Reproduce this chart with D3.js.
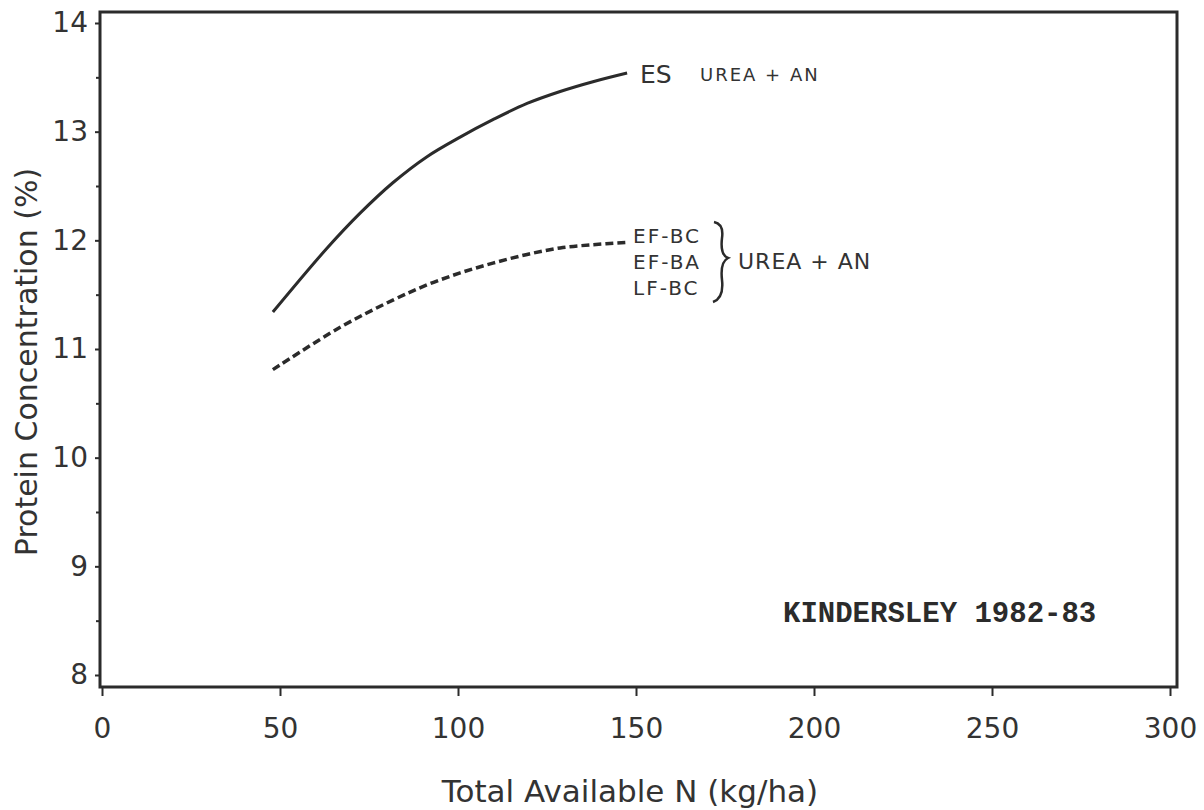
<!DOCTYPE html>
<html>
<head>
<meta charset="utf-8">
<script src="https://cdn.jsdelivr.net/npm/d3@7"></script>
<style>
  body { margin: 0; background: #fff; }
  svg { display: block; }
  .tick text { font-family: "DejaVu Sans", sans-serif; fill: #333; }
  .hand { font-family: "DejaVu Sans", sans-serif; fill: #333; }
</style>
</head>
<body>
<svg id="chart" width="1204" height="810"></svg>
<script>
// values
const esN = [48, 63, 72.5, 81.7, 91.3, 100.6, 109.8, 119.4, 128.7, 137.9, 147.5]
const esProtein = [11.34, 11.92, 12.25, 12.53, 12.77, 12.95, 13.11, 13.26, 13.37, 13.46, 13.54]

const efN = [48, 66.9, 81.7, 91.3, 100.6, 109.8, 119.4, 128.7, 137.9, 147]
const efProtein = [10.81, 11.2, 11.45, 11.59, 11.7, 11.79, 11.87, 11.93, 11.96, 11.98]

const xTicks = [0, 50, 100, 150, 200, 250, 300]
const yTicks = [8, 9, 10, 11, 12, 13, 14]
const yMinorTicks = [8.5, 9.5, 10.5, 11.5, 12.5, 13.5]

const svg = d3.select("#chart")
const ink = "#2b2b2b"

const x = d3.scaleLinear().domain([0, 300]).range([102, 1170])
const y = d3.scaleLinear().domain([8, 14]).range([675, 23])

// frame
svg.append("path")
    .attr("d", "M100,12 H1177 V687 H100 Z")
    .attr("fill", "none")
    .attr("stroke", ink)
    .attr("stroke-width", 3)

// x axis
const xAxis = svg.append("g")
    .attr("transform", "translate(0,687)")
    .call(d3.axisBottom(x).tickValues(xTicks).tickSize(9).tickPadding(22))
xAxis.select(".domain").remove()
xAxis.selectAll("line").attr("stroke", ink).attr("stroke-width", 2)
xAxis.selectAll("text").attr("font-size", 28)

// y axis
const yAxis = svg.append("g")
    .attr("transform", "translate(100,0)")
    .call(d3.axisLeft(y).tickValues(yTicks).tickFormat(d3.format("d")).tickSize(5).tickPadding(7))
yAxis.select(".domain").remove()
yAxis.selectAll("line").attr("stroke", ink).attr("stroke-width", 2)
yAxis.selectAll("text").attr("font-size", 28)

const yMinor = svg.append("g")
    .attr("transform", "translate(100,0)")
    .call(d3.axisLeft(y).tickValues(yMinorTicks).tickSize(4).tickFormat(""))
yMinor.select(".domain").remove()
yMinor.selectAll("line").attr("stroke", ink).attr("stroke-width", 2)

// axis titles
svg.append("text")
    .attr("class", "hand")
    .attr("x", 630)
    .attr("y", 802)
    .attr("text-anchor", "middle")
    .attr("font-size", 31)
    .text("Total Available N (kg/ha)")

svg.append("text")
    .attr("class", "hand")
    .attr("transform", "translate(37,362) rotate(-90)")
    .attr("text-anchor", "middle")
    .attr("font-size", 30)
    .text("Protein Concentration (%)")

// curves
const line = d3.line()
    .x(d => x(d[0]))
    .y(d => y(d[1]))
    .curve(d3.curveCatmullRom)

svg.append("path")
    .datum(d3.zip(esN, esProtein))
    .attr("d", line)
    .attr("fill", "none")
    .attr("stroke", ink)
    .attr("stroke-width", 3)

svg.append("path")
    .datum(d3.zip(efN, efProtein))
    .attr("d", line)
    .attr("fill", "none")
    .attr("stroke", ink)
    .attr("stroke-width", 3.5)
    .attr("stroke-dasharray", "8,4")

// labels
svg.append("text").attr("class", "hand")
    .attr("x", 640).attr("y", 83).attr("font-size", 25)
    .text("ES")
svg.append("text").attr("class", "hand")
    .attr("x", 700).attr("y", 81).attr("font-size", 18)
    .attr("letter-spacing", 2)
    .text("UREA + AN")

const efNames = ["EF-BC", "EF-BA", "LF-BC"]
svg.selectAll(".ef")
    .data(efNames)
    .enter()
    .append("text")
    .attr("class", "hand ef")
    .attr("x", 633)
    .attr("y", (d, i) => 243 + i * 26)
    .attr("font-size", 20)
    .attr("letter-spacing", 2)
    .text(d => d)

// brace
svg.append("path")
    .attr("d", "M714,222 Q724,224 722,238 Q720,255 728,258 Q720,262 722,280 Q724,298 713,302")
    .attr("fill", "none")
    .attr("stroke", ink)
    .attr("stroke-width", 2.5)

svg.append("text").attr("class", "hand")
    .attr("x", 738).attr("y", 269).attr("font-size", 22)
    .attr("letter-spacing", 1)
    .text("UREA + AN")

svg.append("text")
    .attr("x", 783)
    .attr("y", 622)
    .attr("font-family", "Liberation Mono, monospace")
    .attr("font-weight", "bold")
    .attr("font-size", 29)
    .attr("fill", ink)
    .text("KINDERSLEY 1982-83")
</script>
</body>
</html>
